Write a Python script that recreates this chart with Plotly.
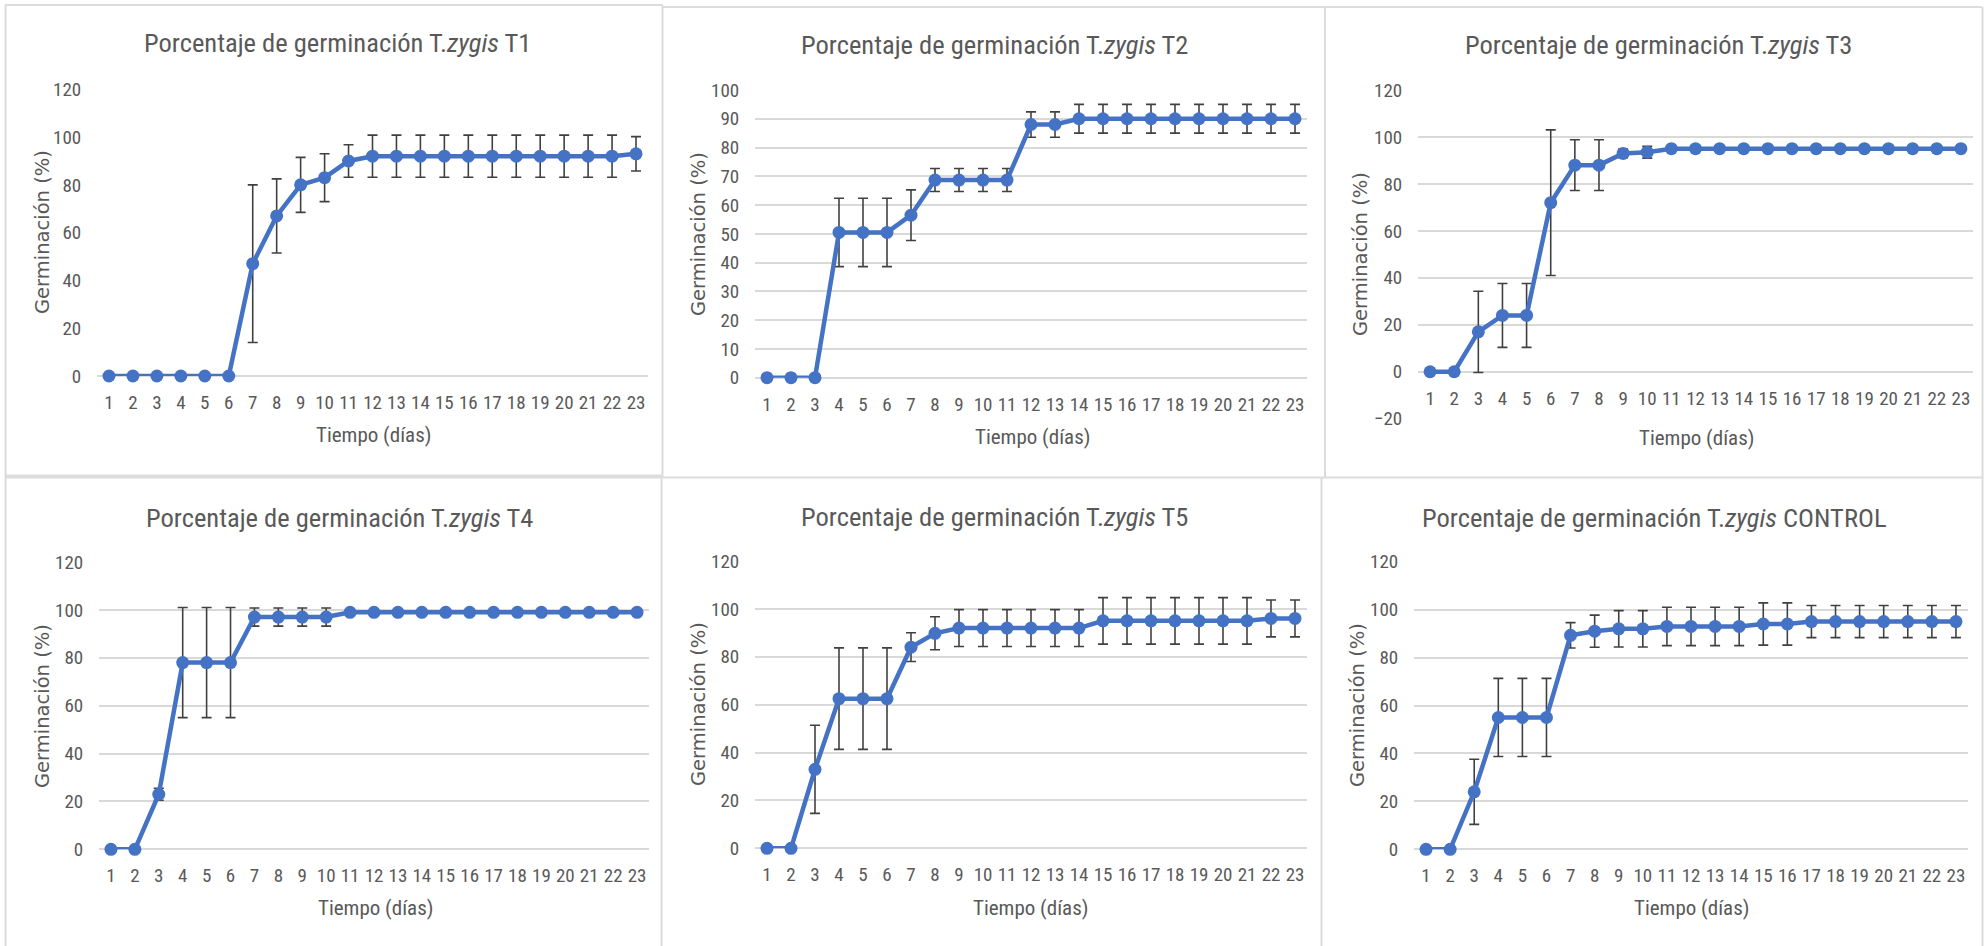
import plotly.graph_objects as go

W, H = 1984, 946

days = list(range(1, 24))
day_labels = [str(d) for d in days]

t1_mean = [0, 0, 0, 0, 0, 0, 47, 67, 80, 83, 90, 92, 92, 92, 92, 92, 92, 92, 92, 92, 92, 92, 93]
t1_err = [0, 0, 0, 0, 0, 0, 33, 15.5, 11.5, 10, 6.8, 8.8, 8.8, 8.8, 8.8, 8.8, 8.8, 8.8, 8.8, 8.8, 8.8, 8.8, 7.2]

t2_mean = [0, 0, 0, 50.5, 50.5, 50.5, 56.5, 68.7, 68.7, 68.7, 68.7, 88, 88, 90, 90, 90, 90, 90, 90, 90, 90, 90, 90]
t2_err = [0, 0, 0, 11.9, 11.9, 11.9, 8.8, 4, 4, 4, 4, 4.4, 4.4, 5, 5, 5, 5, 5, 5, 5, 5, 5, 5]

t3_mean = [0, 0, 17, 24, 24, 72, 88, 88, 93, 93.5, 95, 95, 95, 95, 95, 95, 95, 95, 95, 95, 95, 95, 95]
t3_err = [0, 0, 17.3, 13.6, 13.6, 31, 10.8, 10.8, 1.8, 2.5, 1, 1, 1, 1, 1, 1, 1, 1, 1, 1, 1, 1, 1]

t4_mean = [0, 0, 23, 78, 78, 78, 97, 97, 97, 97, 99, 99, 99, 99, 99, 99, 99, 99, 99, 99, 99, 99, 99]
t4_err = [0, 0, 2.5, 23, 23, 23, 3.8, 3.8, 3.8, 3.8, 1, 1, 1, 1, 1, 1, 1, 1, 1, 1, 1, 1, 1]

t5_mean = [0, 0, 33, 62.5, 62.5, 62.5, 84, 89.8, 92, 92, 92, 92, 92, 92, 95, 95, 95, 95, 95, 95, 95, 96, 96]
t5_err = [0, 0, 18.4, 21.2, 21.2, 21.2, 6, 6.9, 7.7, 7.7, 7.7, 7.7, 7.7, 7.7, 9.7, 9.7, 9.7, 9.7, 9.7, 9.7, 9.7, 7.7, 7.7]

ctrl_mean = [0, 0, 24, 55, 55, 55, 89.3, 91, 92, 92, 93, 93, 93, 93, 94, 94, 95, 95, 95, 95, 95, 95, 95]
ctrl_err = [0, 0, 13.6, 16.3, 16.3, 16.3, 5.3, 6.7, 7.6, 7.6, 8, 8, 8, 8, 8.8, 8.8, 6.7, 6.7, 6.7, 6.7, 6.7, 6.7, 6.7]

titles = ["T1", "T2", "T3", "T4", "T5", "CONTROL"]
means = [t1_mean, t2_mean, t3_mean, t4_mean, t5_mean, ctrl_mean]
errs = [t1_err, t2_err, t3_err, t4_err, t5_err, ctrl_err]

# layout (pixel geometry of each panel)
panels = [
    dict(xl=97, xr=648, yb=376, yt=89.3, rng=[0, 120], dtick=20, grid=False,
         tx=337, ty=43, ax=373, ay=435, yx=42, yy=232),
    dict(xl=755, xr=1307, yb=377.7, yt=90, rng=[0, 100], dtick=10, grid=True,
         tx=994, ty=45, ax=1032, ay=437, yx=698, yy=234),
    dict(xl=1418, xr=1973, yb=418.7, yt=90, rng=[-20, 120], dtick=20, grid=True,
         tx=1658, ty=45, ax=1696, ay=438, yx=1361, yy=254, zero_px=372),
    dict(xl=99, xr=649, yb=849.3, yt=562, rng=[0, 120], dtick=20, grid=True,
         tx=339, ty=517, ax=375, ay=908, yx=42, yy=706),
    dict(xl=755, xr=1307, yb=848.3, yt=561, rng=[0, 120], dtick=20, grid=True,
         tx=994, ty=516, ax=1030, ay=908, yx=698, yy=704),
    dict(xl=1414, xr=1968, yb=849.3, yt=561.7, rng=[0, 120], dtick=20, grid=True,
         tx=1654, ty=517, ax=1691, ay=908, yx=1357, yy=705),
]

def fx(px):
    return px / W

def fy(py):
    return 1 - py / H

NARROW = "Liberation Sans Narrow, Arial Narrow, Roboto Condensed, sans-serif"
TEXT = "#595959"
BLUE = "#4472C4"
GRID = "#D9D9D9"

fig = go.Figure()
annotations = []
layout = {}

for i, (p, name, m, e) in enumerate(zip(panels, titles, means, errs)):
    k = "" if i == 0 else str(i + 1)
    fig.add_trace(go.Scatter(
        x=days, y=m, mode="lines+markers",
        line=dict(color=BLUE, width=4.5),
        marker=dict(color=BLUE, size=13),
        error_y=dict(type="data", array=e, visible=True, color="#404040",
                     thickness=1.6, width=5),
        cliponaxis=False, hoverinfo="skip",
        xaxis="x" + k, yaxis="y" + k,
    ))
    xa = dict(domain=[fx(p["xl"]), fx(p["xr"])], range=[0.5, 23.5],
              tickmode="array", tickvals=days, ticktext=day_labels,
              showgrid=False, zeroline=False, showline=False,
              ticks="outside", ticklen=9, tickcolor="rgba(0,0,0,0)",
              tickfont=dict(family=NARROW, size=19, color=TEXT),
              fixedrange=True)
    if "zero_px" in p:
        xa.update(anchor="free", position=fy(p["zero_px"]))
    else:
        xa.update(anchor="y" + k)
    ya = dict(domain=[fy(p["yb"]), fy(p["yt"])], range=p["rng"],
              tickmode="linear", tick0=0, dtick=p["dtick"],
              showgrid=p["grid"], gridcolor=GRID, gridwidth=1.6,
              zeroline=True, zerolinecolor=GRID, zerolinewidth=1.6,
              showline=False, ticks="outside", ticklen=11,
              tickcolor="rgba(0,0,0,0)",
              tickfont=dict(family=NARROW, size=19, color=TEXT),
              anchor="x" + k, fixedrange=True)
    layout["xaxis" + k] = xa
    layout["yaxis" + k] = ya

    annotations.append(dict(
        text="Porcentaje de germinación T.<i>zygis</i> " + name,
        x=fx(p["tx"]), y=fy(p["ty"]), xref="paper", yref="paper",
        xanchor="center", yanchor="middle", showarrow=False,
        font=dict(family=NARROW, size=26.5, color=TEXT)))
    annotations.append(dict(
        text="Tiempo (días)", x=fx(p["ax"]), y=fy(p["ay"]),
        xref="paper", yref="paper", xanchor="center", yanchor="middle",
        showarrow=False, font=dict(family=NARROW, size=21, color=TEXT)))
    annotations.append(dict(
        text="Germinación (%)", x=fx(p["yx"]), y=fy(p["yy"]),
        xref="paper", yref="paper", xanchor="center", yanchor="middle",
        textangle=-90, showarrow=False,
        font=dict(family="DejaVu Sans", size=19.5, color=TEXT)))

# panel frames
BORDER = "#DCDCDC"
shapes = []
def hline(y, x0, x1, w=2):
    shapes.append(dict(type="line", xref="paper", yref="paper",
                       x0=fx(x0), x1=fx(x1), y0=fy(y), y1=fy(y),
                       line=dict(color=BORDER, width=w)))
def vline(x, y0, y1, w=2):
    shapes.append(dict(type="line", xref="paper", yref="paper",
                       x0=fx(x), x1=fx(x), y0=fy(y0), y1=fy(y1),
                       line=dict(color=BORDER, width=w)))

hline(5, 5, 663)
hline(7, 663, 1982)
vline(5.5, 5, 946)
vline(662.5, 5, 477)
vline(661.5, 477, 946)
vline(1325, 7, 477)
vline(1321.5, 477, 946)
vline(1982.5, 7, 946)
hline(476.5, 5, 662, w=4)
hline(477.5, 662, 1982)

fig.update_layout(
    width=W, height=H, margin=dict(l=0, r=0, t=0, b=0),
    paper_bgcolor="white", plot_bgcolor="white",
    showlegend=False, hovermode=False,
    annotations=annotations, shapes=shapes,
    template="none",
    **layout,
)

fig.write_html(
    "out.html",
    config={"displayModeBar": False},
    post_script="document.body.style.margin='0px';document.body.style.overflow='hidden';",
)
